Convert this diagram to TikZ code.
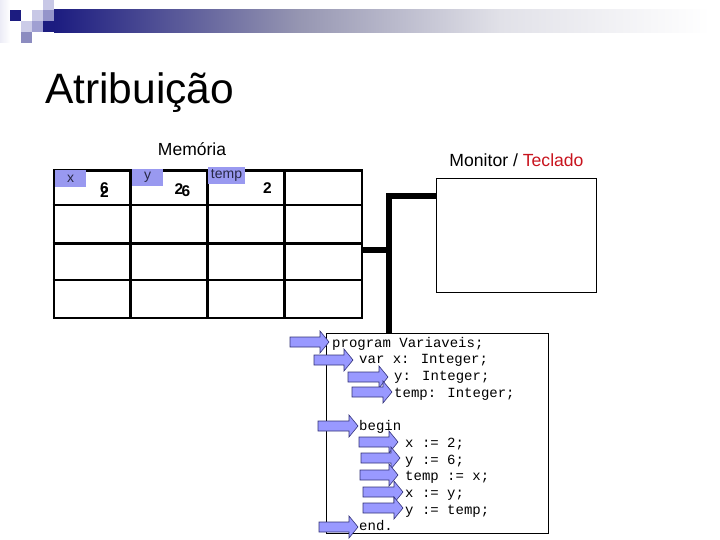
\documentclass[tikz,border=0pt]{standalone}
\usepackage{fontspec}
\setmainfont{Liberation Sans}
\newfontfamily\codefont{Liberation Mono}
\definecolor{navy}{RGB}{28,28,128}
\definecolor{midgray}{RGB}{150,150,178}
\definecolor{lightgray2}{RGB}{225,225,232}
\definecolor{lav}{RGB}{153,153,255}
\definecolor{lavline}{RGB}{50,50,120}
\definecolor{lblfill}{RGB}{153,153,240}
\definecolor{lbltext}{RGB}{40,40,70}
\definecolor{tecred}{RGB}{200,20,30}
\definecolor{sqA}{RGB}{200,200,230}
\definecolor{sqB}{RGB}{148,148,202}
\definecolor{sqC}{RGB}{204,204,232}
\definecolor{sqD}{RGB}{160,160,210}
\definecolor{sqE}{RGB}{140,140,192}
\definecolor{sqF}{RGB}{236,236,246}
\newcommand{\blkarrow}[3]{\filldraw[blkarr] (#1,#3-5) -- (#2-9,#3-5) -- (#2-9,#3-11) -- (#2,#3) -- (#2-9,#3+11) -- (#2-9,#3+5) -- (#1,#3+5) -- cycle;}
\begin{document}
\begin{tikzpicture}[x=1pt,y=-1pt,
  blkarr/.style={fill=lav,draw=lavline,line width=0.6pt,line join=miter},
  lbl/.style={fill=lblfill,inner sep=0pt,text=lbltext,font=\fontsize{14}{16}\selectfont},
  val/.style={inner sep=0pt,font=\bfseries\fontsize{15.5}{18}\selectfont},
  code/.style={anchor=base west,inner sep=0pt,font=\codefont\fontsize{14}{16.8}\selectfont},
  bus/.style={line width=5.5pt,line join=miter},
  grid/.style={line width=2.5pt},
  box/.style={draw,line width=0.9pt,inner sep=0pt,anchor=north west}]
\useasboundingbox (0,0) rectangle (720,540);
% header decoration
\shade[left color=sqF,right color=white] (0,0) rectangle (10,43);
\shade[left color=navy,right color=midgray] (54,10) rectangle (300,33);
\shade[left color=midgray,right color=lightgray2] (299.5,10) rectangle (500,33);
\shade[left color=lightgray2,right color=white] (499.5,10) rectangle (710,33);
\fill[navy] (10,10) rectangle (21,21);
\fill[sqA] (32,10) rectangle (43,21);
\fill[sqB] (43,10) rectangle (54,21);
\fill[sqA] (43,0) rectangle (54,10);
\fill[sqC] (21,21) rectangle (32,32);
\fill[sqD] (32,21) rectangle (43,32);
\fill[navy] (43,21) rectangle (54.5,32);
\fill[sqE] (21,32) rectangle (32,43);
% title
\node[anchor=base west,inner sep=0pt,font=\fontsize{42.5}{50}\selectfont] (title) at (45,104) {Atribuição};
% memory
\node[inner sep=0pt,font=\fontsize{17.5}{21}\selectfont] (memtitle) at (192,149) {Memória};
\node[draw,grid,inner sep=0pt,anchor=north west,minimum width=308,minimum height=147.4] (mem) at (52.7,169.3) {};
\draw[grid] (130.7,169.3) -- (130.7,316.7) (207.3,169.3) -- (207.3,316.7) (284.3,169.3) -- (284.3,316.7);
\draw[grid] (52.7,205) -- (360.7,205) (52.7,243.3) -- (360.7,243.3) (52.7,280) -- (360.7,280);
\node[lbl,minimum width=31,minimum height=16.5] (lx) at (70.5,178.5) {x};
\node[lbl,minimum width=31,minimum height=16.5] (ly) at (147.5,177.5) {y};
\node[lbl,minimum width=37,minimum height=17] (lt) at (226.5,175.5) {temp};
\node[val] (x6) at (104.5,188.5) {6};
\node[val] (x2) at (104.5,192.5) {2};
\node[val] (y2) at (179,189.5) {2};
\node[val] (y6) at (186,191.5) {6};
\node[val] (t2) at (267.5,188.5) {2};
% monitor
\node[inner sep=0pt,font=\fontsize{17.6}{21}\selectfont] (montitle) at (516.5,160) {Monitor / \textcolor{tecred}{Teclado}};
\node[box,minimum width=160,minimum height=114] (mon) at (436,178) {};
% code box
\node[box,minimum width=222,minimum height=200] (code) at (326,333) {};
% bus
\coordinate (jb) at (389,250);
\coordinate (jt) at (389,196);
\draw[bus] (jb -| mem.east) -- (jb);
\draw[bus] (jt -| mon.west) -- (jt) -- (jt |- code.north);
% code lines
\node[code] (c1) at (332,347) {program Variaveis;};
\node[code] (c2) at (359,363.7) {var x: Integer;};
\node[code] (c3) at (394,380.4) {y: Integer;};
\node[code] (c4) at (394,397.1) {temp: Integer;};
\node[code] (c5) at (359,430.6) {begin};
\node[code] (c6) at (405,447.3) {x := 2;};
\node[code] (c7) at (405,464) {y := 6;};
\node[code] (c8) at (405,480.7) {temp := x;};
\node[code] (c9) at (405,497.4) {x := y;};
\node[code] (c10) at (405,514.1) {y := temp;};
\node[code] (c11) at (359,530.8) {end.};
% arrows
\blkarrow{290}{329}{342}
\blkarrow{314}{353}{360}
\blkarrow{348}{388}{377}
\blkarrow{352}{392}{392}
\blkarrow{318}{358}{426}
\blkarrow{359}{398}{442}
\blkarrow{361}{400}{458}
\blkarrow{360}{398}{475}
\blkarrow{363}{403}{492}
\blkarrow{363}{403}{508}
\blkarrow{319}{358}{527}
\end{tikzpicture}
\end{document}
